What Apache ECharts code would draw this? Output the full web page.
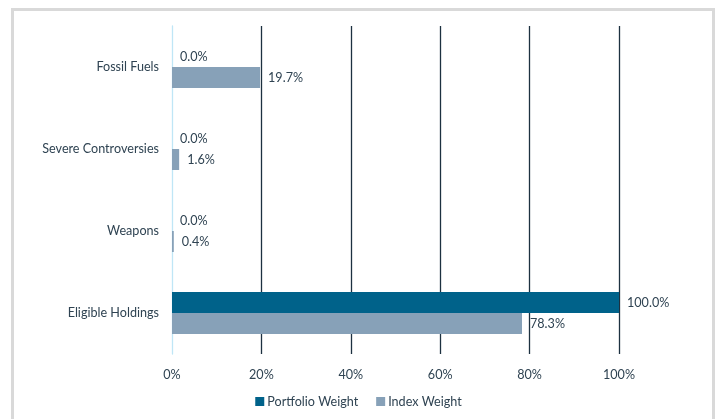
<!DOCTYPE html>
<html><head><meta charset="utf-8">
<script src="https://cdn.jsdelivr.net/npm/echarts@6/dist/echarts.min.js"></script>
<style>
html,body{margin:0;padding:0;background:#fff;}
#frame{position:absolute;left:11px;top:8px;width:698px;height:420px;border:3px solid #d9d9d9;border-bottom:none;}
#c{position:absolute;left:0;top:0;width:717px;height:419px;}
</style></head>
<body>
<div id="frame"></div>
<div id="c"></div>
<script>
const categories = ['Fossil Fuels', 'Severe Controversies', 'Weapons', 'Eligible Holdings'];
const portfolioWeight = [0.0, 0.0, 0.0, 100.0];
const indexWeight = [19.7, 1.6, 0.4, 78.3];
const tickLabels = ['0%', '20%', '40%', '60%', '80%', '100%'];

const textColor = '#2f4352';
const font = 'Lato, "Open Sans", sans-serif';
const fs = 12.6;
const chart = echarts.init(document.getElementById('c'), null, {renderer: 'canvas'});
const lbl = {
  show: true, position: 'right', distance: 8, color: textColor, fontSize: fs, fontFamily: font,
  formatter: p => p.value.toFixed(1) + '%'
};
chart.setOption({
  backgroundColor: 'transparent',
  animation: false,
  grid: {left: 172, right: 98, top: 26, bottom: 65, containLabel: false},
  xAxis: {
    type: 'value', min: 0, max: 100, interval: 20,
    axisLine: {show: false}, axisTick: {show: false},
    axisLabel: {color: textColor, fontSize: fs, fontFamily: font, margin: 14,
      formatter: v => tickLabels[Math.round(v / 20)]},
    splitLine: {show: true, lineStyle: {color: ['rgba(0,0,0,0)', '#1d3140', '#1d3140', '#1d3140', '#1d3140', '#1d3140'], width: 1.3}}
  },
  yAxis: {
    type: 'category', data: categories, inverse: true,
    axisLine: {show: true, lineStyle: {color: '#bfe6f6', width: 1.3}},
    axisTick: {show: false},
    axisLabel: {color: textColor, fontSize: fs, fontFamily: font, margin: 13}
  },
  legend: {
    bottom: 6, left: 'center', itemWidth: 9, itemHeight: 9, itemGap: 18,
    icon: 'rect',
    textStyle: {color: textColor, fontSize: fs, fontFamily: font, padding: [0, 0, 0, -2]},
    data: ['Portfolio Weight', 'Index Weight']
  },
  series: [
    {name: 'Portfolio Weight', type: 'bar', data: portfolioWeight, barWidth: 21, barGap: '0%',
     itemStyle: {color: '#00628a'}, label: lbl},
    {name: 'Index Weight', type: 'bar', data: indexWeight, barWidth: 21, barGap: '0%',
     itemStyle: {color: '#87a1b8'}, label: lbl}
  ]
});
</script>
</body></html>
